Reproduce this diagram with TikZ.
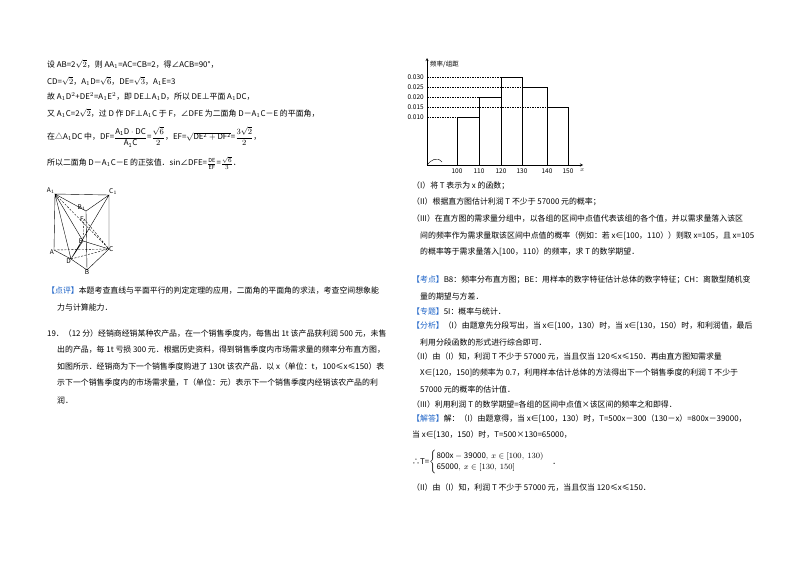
\documentclass[tikz,border=0pt]{standalone}
\usepackage{amsmath}
\usepackage{fontspec}
\setmainfont{Noto Sans CJK SC}
\usetikzlibrary{calc}
\definecolor{kb}{RGB}{30,100,200}
\begin{document}
\begin{tikzpicture}[x=1pt,y=-1pt,
  t/.style={anchor=west,inner sep=0pt,font=\fontsize{7.9}{9}\selectfont},
  s/.style={anchor=center,inner sep=0pt,font=\fontsize{6.5}{7}\selectfont\rmfamily},
  lbl/.style={inner sep=0pt,font=\fontsize{6.5}{7}\selectfont\itshape},
  ed/.style={line width=0.4pt},
  hd/.style={line width=0.4pt,dashed,dash pattern=on 2pt off 1.5pt},
  bar/.style={line width=0.6pt},
  gl/.style={line width=0.3pt,dashed,dash pattern=on 1.5pt off 1pt}]
\useasboundingbox[fill=white] (0,0) rectangle (800,565);
% left column
\node[t] (l1) at (47,64) {设 AB=2$\sqrt{2}$，则 AA$_1$=AC=CB=2，得∠ACB=90°，};
\node[t] (l2) at (47,81) {CD=$\sqrt{2}$，A$_1$D=$\sqrt{6}$，DE=$\sqrt{3}$，A$_1$E=3};
\node[t] (l3) at (47,97) {故 A$_1$D$^2$+DE$^2$=A$_1$E$^2$，即 DE⊥A$_1$D，所以 DE⊥平面 A$_1$DC，};
\node[t] (l4) at (47,113) {又 A$_1$C=2$\sqrt{2}$，过 D 作 DF⊥A$_1$C 于 F，∠DFE 为二面角 D－A$_1$C－E 的平面角，};
\node[t] (l5) at (47,137) {在△A$_1$DC 中，DF=$\dfrac{\mathrm{A_1D\cdot DC}}{\mathrm{A_1C}}$=$\dfrac{\sqrt{6}}{2}$，EF=$\sqrt{\mathrm{DE^2+DF^2}}$=$\dfrac{3\sqrt{2}}{2}$，};
\node[t] (l6) at (47,163) {所以二面角 D－A$_1$C－E 的正弦值．sin∠DFE=$\frac{\mathrm{DE}}{\mathrm{EF}}$=$\frac{\sqrt{6}}{3}$．};
% solid figure
\coordinate (A1) at (55,194); \coordinate (C1) at (109,195); \coordinate (B1) at (86,211);
\coordinate (F) at (84,219); \coordinate (E) at (83,241);
\coordinate (A) at (54,250); \coordinate (C) at (109,249); \coordinate (D) at (71,259); \coordinate (B) at (87,270);
\draw[ed] (A1)--(C1)--(B1)--cycle (A1)--(A) (C1)--(C) (B1)--(B) (A)--(D)--(B)--(C) (A1)--(D) (C1)--(D) (A1)--(E)--(C) (D)--(E);
\draw[hd] (A)--(C) (D)--(C) (A1)--(C) (F)--(E) (F)--(C);
\node[lbl,anchor=south east] (nA1) at (A1) {A$_1$};
\node[lbl,anchor=south west] (nC1) at (C1) {C$_1$};
\node[lbl,anchor=south east] (nB1) at (B1) {B$_1$};
\node[lbl,anchor=east] (nF) at (F) {F};
\node[lbl,anchor=east] (nE) at (E) {E};
\node[lbl,anchor=north east] (nA) at (A) {A};
\node[lbl,anchor=west] (nC) at (C) {C};
\node[lbl,anchor=north east] (nD) at (D) {D};
\node[lbl,anchor=north] (nB) at (B) {B};
\node[t] (p1) at (47,291) {\textcolor{kb}{【点评】}本题考查直线与平面平行的判定定理的应用，二面角的平面角的求法，考查空间想象能};
\node[t] (p2) at (57,307) {力与计算能力．};
\node[t] (q1) at (47,334) {19．（12 分）经销商经销某种农产品，在一个销售季度内，每售出 1t 该产品获利润 500 元，未售};
\node[t] (q2) at (57,350) {出的产品，每 1t 亏损 300 元．根据历史资料，得到销售季度内市场需求量的频率分布直方图，};
\node[t] (q3) at (57,367) {如图所示．经销商为下一个销售季度购进了 130t 该农产品．以 x（单位：t，100≤x≤150）表};
\node[t] (q4) at (57,383) {示下一个销售季度内的市场需求量，T（单位：元）表示下一个销售季度内经销该农产品的利};
\node[t] (q5) at (57,400) {润．};
% histogram
\coordinate (O) at (427,165);
\coordinate (Ytop) at (427,58);
\coordinate (Xend) at (583,165);
\draw[->,>=stealth,line width=0.4pt] (O)--(Ytop);
\draw[->,>=stealth,line width=0.4pt] (O)--(Xend);
\node[anchor=west,inner sep=0pt,font=\fontsize{6.5}{7}\selectfont] (yl) at (430,64) {频率/组距};
\node[s,anchor=south west] (xl) at (580,172) {$x$};
\foreach \v/\y/\xe in {0.030/77/522,0.025/87/547,0.020/97/479,0.015/107/568,0.010/117/457}{
  \node[s,anchor=east] (tk\y) at (424,\y) {\v};
  \draw[gl] (427,\y)--(\xe,\y);
}
\draw[bar] (457,165)--(457,117)--(479,117)--(479,97)--(501,97)--(501,77)--(522,77)--(522,87)--(547,87)--(547,107)--(568,107)--(568,165);
\draw[line width=0.3pt] (479,117)--(479,165) (501,97)--(501,165) (522,87)--(522,165) (547,107)--(547,165);
\foreach \l/\x in {100/457,110/479,120/501,130/522,140/547,150/568}{
  \node[s] (xt\l) at (\x,171) {\l};
}
\draw[line width=0.4pt] (427,165) .. controls (431,160) and (437,156) .. (442,162);
% right text
\node[t] (r1) at (412,186) {（I）将 T 表示为 x 的函数；};
\node[t] (r2) at (412,202) {（II）根据直方图估计利润 T 不少于 57000 元的概率；};
\node[t] (r3) at (412,219) {（III）在直方图的需求量分组中，以各组的区间中点值代表该组的各个值，并以需求量落入该区};
\node[t] (r4) at (420,236) {间的频率作为需求量取该区间中点值的概率（例如：若 x∈[100，110））则取 x=105，且 x=105};
\node[t] (r5) at (420,252) {的概率等于需求量落入[100，110）的频率，求 T 的数学期望．};
\node[t] (r6) at (412,280) {\textcolor{kb}{【考点】}B8：频率分布直方图；BE：用样本的数字特征估计总体的数字特征；CH：离散型随机变};
\node[t] (r7) at (420,296) {量的期望与方差．};
\node[t] (r8) at (412,311) {\textcolor{kb}{【专题】}5I：概率与统计．};
\node[t] (r9) at (412,326) {\textcolor{kb}{【分析】}（I）由题意先分段写出，当 x∈[100，130）时，当 x∈[130，150）时，和利润值，最后};
\node[t] (r10) at (420,342) {利用分段函数的形式进行综合即可．};
\node[t] (r11) at (412,357) {（II）由（I）知，利润 T 不少于 57000 元，当且仅当 120≤x≤150．再由直方图知需求量};
\node[t] (r12) at (420,373) {X∈[120，150]的频率为 0.7，利用样本估计总体的方法得出下一个销售季度的利润 T 不少于};
\node[t] (r13) at (420,389) {57000 元的概率的估计值．};
\node[t] (r14) at (412,404) {（III）利用利润 T 的数学期望=各组的区间中点值×该区间的频率之和即得．};
\node[t] (r15) at (412,419) {\textcolor{kb}{【解答】}解：（I）由题意得，当 x∈[100，130）时，T=500x－300（130－x）=800x－39000，};
\node[t] (r16) at (412,435) {当 x∈[130，150）时，T=500×130=65000，};
\node[t] (r17) at (412,462) {∴T=$\begin{cases}\mathrm{800x-39000},\ x\in[100,\ 130)\\ \mathrm{65000},\ x\in[130,\ 150]\end{cases}$．};
\node[t] (r18) at (412,488) {（II）由（I）知，利润 T 不少于 57000 元，当且仅当 120≤x≤150．};
\end{tikzpicture}
\end{document}
